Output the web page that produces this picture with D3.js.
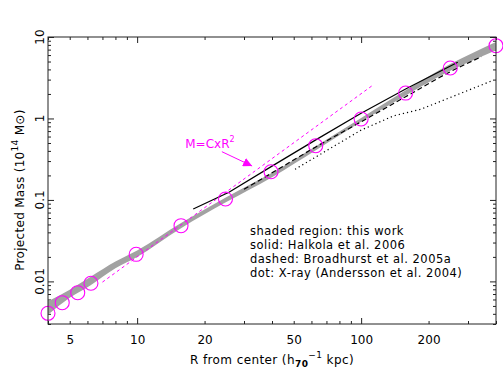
<!DOCTYPE html>
<html><head><meta charset="utf-8">
<script src="https://cdn.jsdelivr.net/npm/d3@7"></script>
<style>
html,body{margin:0;padding:0;background:#fff;}
text{font-family:"DejaVu Sans",sans-serif;}
</style></head>
<body><svg id="c" width="503" height="375"></svg>
<script>
// ---- data ----
const xDomain = [4, 400];
const yDomain = [0.003, 10];
const xTickLabels = [5, 10, 20, 50, 100, 200];
const yTickLabels = [0.01, 0.1, 1, 10];

// measured points (magenta circles)
const pointR = [4, 4.63, 5.43, 6.22, 9.9, 15.7, 24.8, 39.6, 62.7, 100, 158, 250, 400];
const pointM = [0.00406, 0.00548, 0.00727, 0.0095, 0.0215, 0.0483, 0.1027, 0.222, 0.463, 0.986, 2.05, 4.16, 7.82];

// shaded region: this work
const bandR  = [4, 5, 6.2, 8, 10, 15.7, 25, 40, 63, 100, 158, 250, 400];
const bandLo = [0.0039, 0.0063, 0.0090, 0.0145, 0.0200, 0.045, 0.094, 0.190, 0.41, 0.91, 1.92, 3.85, 6.9];
const bandHi = [0.0057, 0.0079, 0.0114, 0.0175, 0.0240, 0.052, 0.108, 0.215, 0.46, 1.01, 2.22, 4.65, 8.7];

// solid: Halkola et al. 2006
const solidR = [17.8, 25.7, 40, 63, 100, 158, 270];
const solidM = [0.0774, 0.124, 0.26, 0.55, 1.16, 2.3, 4.9];

// dashed: Broadhurst et al. 2005a
const dashR = [30, 40, 63, 100, 158, 250, 345];
const dashM = [0.135, 0.215, 0.45, 0.91, 1.85, 3.75, 5.73];

// dot: X-ray (Andersson et al. 2004)
const dotR = [50.7, 100, 140, 185, 390];
const dotM = [0.238, 0.72, 1.08, 1.3, 2.95];

// M = C x R^2 line
const powR = [7, 111.4];
const powM = [0.0098, 2.5];

// annotation anchor (data coords)
const annoTextAt = [16.4, 0.434];
const arrowFrom = [23.9, 0.391];
const arrowTo = [32.6, 0.261];

// ---- chart ----
const svg = d3.select("#c");
const L = 48, R = 496, T = 37, B = 324;
const x = d3.scaleLog().domain(xDomain).range([L, R]);
const y = d3.scaleLog().domain(yDomain).range([B, T]);

const minorX = [], majorX = [], minorY = [], majorY = [];
for (let e = 0; e <= 2; e++) for (let k = 1; k <= 9; k++) {
  const v = k * Math.pow(10, e);
  if (v < xDomain[0] || v > xDomain[1]) continue;
  (k === 1 ? majorX : minorX).push(v);
}
for (let e = -3; e <= 1; e++) for (let k = 1; k <= 9; k++) {
  const v = k * Math.pow(10, e);
  if (v < yDomain[0] - 1e-12 || v > yDomain[1] + 1e-9) continue;
  (k === 1 ? majorY : minorY).push(v);
}

function axisSet(gen, tr, vals, size) {
  const g = svg.append("g").attr("transform", tr)
    .call(gen.tickValues(vals).tickSize(-size).tickFormat(""));
  g.select(".domain").remove();
  g.selectAll("line").attr("stroke", "#222");
}
[[majorX, 6], [minorX, 3]].forEach(([v, s]) => {
  axisSet(d3.axisBottom(x), `translate(0,${B})`, v, s);
  axisSet(d3.axisTop(x), `translate(0,${T})`, v, s);
});
[[majorY, 6], [minorY, 3]].forEach(([v, s]) => {
  axisSet(d3.axisLeft(y), `translate(${L},0)`, v, s);
  axisSet(d3.axisRight(y), `translate(${R},0)`, v, s);
});

// band
const band = bandR.map((r, i) => ({ r, lo: bandLo[i], hi: bandHi[i] }));
svg.append("path").datum(band)
  .attr("d", d3.area().x(d => x(d.r)).y0(d => y(d.lo)).y1(d => y(d.hi)).curve(d3.curveMonotoneX))
  .attr("fill", "#a2a2a2");

const line = d3.line().x(d => x(d[0])).y(d => y(d[1]));
const zip = (a, b) => a.map((v, i) => [v, b[i]]);

svg.append("path").datum(zip(powR, powM)).attr("d", line)
  .attr("fill", "none").attr("stroke", "#ff00ff").attr("stroke-width", 1).attr("stroke-dasharray", "3,3");
svg.append("path").datum(zip(dotR, dotM)).attr("d", line)
  .attr("fill", "none").attr("stroke", "#000").attr("stroke-width", 1.2).attr("stroke-dasharray", "1.2,3");
svg.append("path").datum(zip(dashR, dashM)).attr("d", d3.line().x(d => x(d[0])).y(d => y(d[1])).curve(d3.curveMonotoneX))
  .attr("fill", "none").attr("stroke", "#000").attr("stroke-width", 1.2).attr("stroke-dasharray", "5,3");
svg.append("path").datum(zip(solidR, solidM)).attr("d", line)
  .attr("fill", "none").attr("stroke", "#000").attr("stroke-width", 1.2);

// points
svg.append("g").selectAll("circle").data(zip(pointR, pointM)).join("circle")
  .attr("cx", d => x(d[0])).attr("cy", d => y(d[1])).attr("r", 7)
  .attr("fill", "none").attr("stroke", "#ff00ff").attr("stroke-width", 1.1);

// frame
svg.append("rect").attr("x", L).attr("y", T).attr("width", R - L).attr("height", B - T)
  .attr("fill", "none").attr("stroke", "#222").attr("stroke-width", 1);

// tick labels
const xl = svg.append("g").attr("transform", `translate(0,${B})`)
  .call(d3.axisBottom(x).tickValues(xTickLabels).tickSize(0).tickPadding(11).tickFormat(d3.format("d")));
xl.select(".domain").remove();
xl.selectAll("text").attr("font-size", 12).attr("fill", "#000").style("font-family", "DejaVu Sans");

svg.append("g").selectAll("text").data(yTickLabels).join("text")
  .attr("transform", d => `translate(43.5,${y(d)}) rotate(-90)`)
  .attr("text-anchor", "middle").attr("font-size", 12).text(d => String(d));

// axis titles
const xt = svg.append("text").attr("x", 272).attr("y", 364).attr("text-anchor", "middle")
  .attr("font-size", 12).attr("letter-spacing", 0.4);
xt.append("tspan").text("R from center (h");
xt.append("tspan").attr("font-size", 9).attr("dy", 3).attr("font-weight", "bold").text("70");
xt.append("tspan").attr("font-size", 9).attr("dy", -9).text("\u22121");
xt.append("tspan").attr("dy", 6).text(" kpc)");

const yt = svg.append("text").attr("transform", `translate(24,190) rotate(-90)`)
  .attr("text-anchor", "middle").attr("font-size", 12).attr("letter-spacing", 0.3);
yt.append("tspan").text("Projected Mass (10");
yt.append("tspan").attr("font-size", 9).attr("dy", -6).text("14");
yt.append("tspan").attr("dy", 6).text(" M\u2299)");

// annotation
svg.append("defs").append("marker").attr("id", "ah").attr("viewBox", "0 0 10 10")
  .attr("refX", 10).attr("refY", 5).attr("markerWidth", 9).attr("markerHeight", 9)
  .attr("markerUnits", "userSpaceOnUse").attr("orient", "auto")
  .append("path").attr("d", "M0,0L10,5L0,10z").attr("fill", "#ff00ff");
svg.append("line").attr("x1", x(arrowFrom[0])).attr("y1", y(arrowFrom[1]))
  .attr("x2", x(arrowTo[0])).attr("y2", y(arrowTo[1]))
  .attr("stroke", "#ff00ff").attr("stroke-width", 1).attr("marker-end", "url(#ah)");
const at = svg.append("text").attr("x", x(annoTextAt[0])).attr("y", y(annoTextAt[1]))
  .attr("fill", "#ff00ff").attr("font-size", 12);
at.append("tspan").text("M=CxR");
at.append("tspan").attr("font-size", 8).attr("dy", -6).text("2");

// legend text
const legend = ["shaded region: this work", "solid: Halkola et al. 2006",
  "dashed: Broadhurst et al. 2005a", "dot: X-ray (Andersson et al. 2004)"];
svg.append("g").selectAll("text").data(legend).join("text")
  .attr("x", 250).attr("y", (d, i) => 235 + i * 14).attr("font-size", 11.5)
  .attr("letter-spacing", 0.5).text(d => d);
</script></body></html>
